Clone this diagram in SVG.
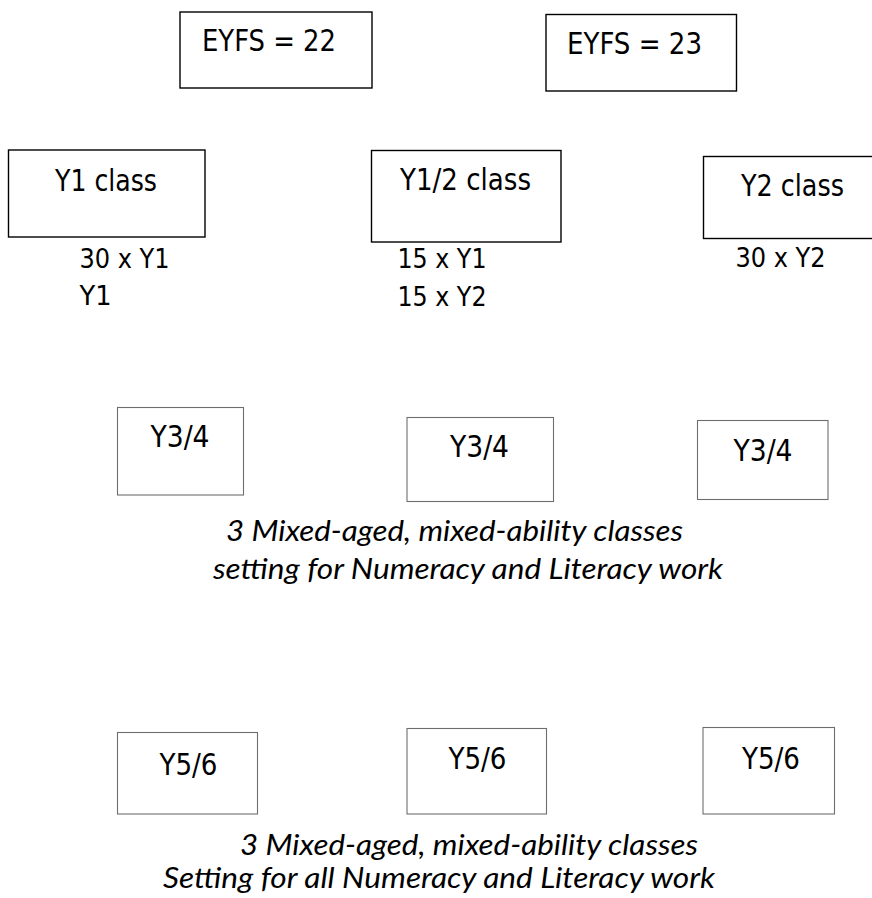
<svg xmlns="http://www.w3.org/2000/svg" width="872" height="898" viewBox="0 0 872 898">
<style>
  .box-dark { fill: #ffffff; stroke: #000000; stroke-width: 1.4; }
  .box-light { fill: #ffffff; stroke: #6e6e6e; stroke-width: 1.1; }
  .lbl { font-family: "DejaVu Sans Condensed", "DejaVu Sans", sans-serif; font-stretch: condensed; font-size: 29.3px; fill: #000000; }
  .sub { font-family: "DejaVu Sans Condensed", "DejaVu Sans", sans-serif; font-stretch: condensed; font-size: 26.7px; fill: #000000; }
  .note { font-family: "Lato", "Open Sans", sans-serif; font-style: italic; font-size: 28.5px; fill: #000000; }
</style>
<rect x="0" y="0" width="872" height="898" fill="#ffffff"/>
<g id="connectors"></g>

<g id="eyfs22">
  <rect class="box-dark" x="180" y="12" width="192" height="76"/>
  <text class="lbl" x="202" y="51" textLength="134" lengthAdjust="spacingAndGlyphs">EYFS = 22</text>
</g>
<g id="eyfs23">
  <rect class="box-dark" x="546" y="14.5" width="190.5" height="76.5"/>
  <text class="lbl" x="567" y="54" textLength="135" lengthAdjust="spacingAndGlyphs">EYFS = 23</text>
</g>

<g id="y1">
  <rect class="box-dark" x="8.5" y="150" width="196.5" height="87"/>
  <text class="lbl" x="55" y="190.5" textLength="102" lengthAdjust="spacingAndGlyphs">Y1 class</text>
  <text class="sub" x="79.5" y="267.5" textLength="90" lengthAdjust="spacingAndGlyphs">30 x Y1</text>
  <text class="sub" x="79.5" y="305" textLength="32" lengthAdjust="spacingAndGlyphs">Y1</text>
</g>
<g id="y12">
  <rect class="box-dark" x="371.5" y="150.5" width="189.5" height="91.5"/>
  <text class="lbl" x="400" y="190" textLength="131" lengthAdjust="spacingAndGlyphs">Y1/2 class</text>
  <text class="sub" x="397.5" y="267.5" textLength="89" lengthAdjust="spacingAndGlyphs">15 x Y1</text>
  <text class="sub" x="397.5" y="305.5" textLength="89" lengthAdjust="spacingAndGlyphs">15 x Y2</text>
</g>
<g id="y2">
  <rect class="box-dark" x="703.5" y="156.5" width="200" height="82"/>
  <text class="lbl" x="741" y="196" textLength="103" lengthAdjust="spacingAndGlyphs">Y2 class</text>
  <text class="sub" x="735.5" y="267" textLength="90" lengthAdjust="spacingAndGlyphs">30 x Y2</text>
</g>

<g id="y34a">
  <rect class="box-light" x="117.5" y="407.5" width="126" height="87.5"/>
  <text class="lbl" x="150.5" y="446.5" textLength="59" lengthAdjust="spacingAndGlyphs">Y3/4</text>
</g>
<g id="y34b">
  <rect class="box-light" x="407" y="417.5" width="146.5" height="84"/>
  <text class="lbl" x="450" y="457" textLength="59" lengthAdjust="spacingAndGlyphs">Y3/4</text>
</g>
<g id="y34c">
  <rect class="box-light" x="697.5" y="420.5" width="130.5" height="79"/>
  <text class="lbl" x="733.5" y="461" textLength="59" lengthAdjust="spacingAndGlyphs">Y3/4</text>
</g>
<g id="note34">
  <text class="note" x="226" y="541" textLength="457" lengthAdjust="spacingAndGlyphs">3 Mixed-aged, mixed-ability classes</text>
  <text class="note" x="213" y="579" textLength="510" lengthAdjust="spacingAndGlyphs">setting for Numeracy and Literacy work</text>
</g>

<g id="y56a">
  <rect class="box-light" x="117.5" y="732.5" width="140" height="81.5"/>
  <text class="lbl" x="159.5" y="774.5" textLength="58" lengthAdjust="spacingAndGlyphs">Y5/6</text>
</g>
<g id="y56b">
  <rect class="box-light" x="407" y="728.5" width="139.5" height="85.5"/>
  <text class="lbl" x="448.5" y="768.5" textLength="58" lengthAdjust="spacingAndGlyphs">Y5/6</text>
</g>
<g id="y56c">
  <rect class="box-light" x="703" y="727.5" width="131.5" height="86.5"/>
  <text class="lbl" x="742" y="768.5" textLength="58" lengthAdjust="spacingAndGlyphs">Y5/6</text>
</g>
<g id="note56">
  <text class="note" x="240" y="855" textLength="458" lengthAdjust="spacingAndGlyphs">3 Mixed-aged, mixed-ability classes</text>
  <text class="note" x="163" y="888" textLength="552" lengthAdjust="spacingAndGlyphs">Setting for all Numeracy and Literacy work</text>
</g>
</svg>
